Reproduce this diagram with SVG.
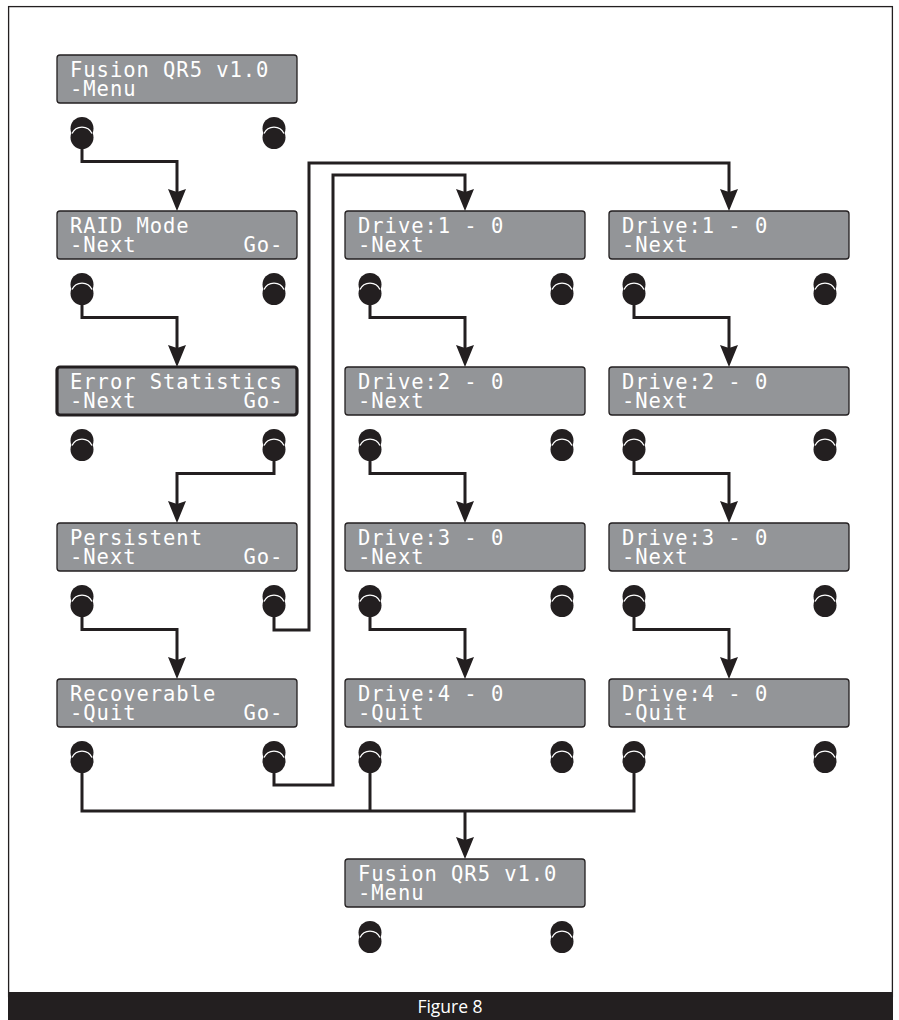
<svg xmlns="http://www.w3.org/2000/svg" xmlns:xlink="http://www.w3.org/1999/xlink" width="899" height="1020" viewBox="0 0 899 1020">
<style>
.lcd{fill:#939598;stroke:#231f20;stroke-width:1.3}
.lcd.sel{stroke-width:3.2}
.t{font-family:"DejaVu Sans Mono",monospace;font-size:20.5px;letter-spacing:0.95px;fill:#ffffff}
.conn{fill:none;stroke:#231f20;stroke-width:3;stroke-linejoin:miter}
.cap{font-family:"Open Sans","Noto Sans",sans-serif;font-size:17.5px;fill:#ffffff}
</style>
<defs>
<marker id="arr" markerUnits="userSpaceOnUse" viewBox="0 0 22 18" markerWidth="22" markerHeight="18" refX="10" refY="9" orient="auto">
<path d="M0,0 L22,9 L0,18 L3,9 Z" fill="#231f20"/>
</marker>
<g id="btn">
<circle cx="0" cy="-4.5" r="11.5" fill="#231f20"/>
<circle cx="0" cy="4.5" r="11.5" fill="#231f20"/>
<path d="M-10,0.5 A11 11 0 0 1 10,0.5" fill="none" stroke="#ffffff" stroke-width="1.3"/>
</g>
</defs>
<rect x="0" y="0" width="899" height="1020" fill="#ffffff"/>
<rect x="8.6" y="6.6" width="883.8" height="990" fill="none" stroke="#231f20" stroke-width="1.3"/>
<rect x="8" y="992" width="885" height="28" fill="#231f20"/>
<text class="cap" x="450" y="1012.5" text-anchor="middle">Figure 8</text>

<g id="connectors">
<path class="conn" d="M82,140 V161.5 H177 V199" marker-end="url(#arr)"/>
<path class="conn" d="M82,296 V317.5 H177 V355" marker-end="url(#arr)"/>
<path class="conn" d="M274,452 V473.5 H177 V511" marker-end="url(#arr)"/>
<path class="conn" d="M82,608 V629.5 H177 V667" marker-end="url(#arr)"/>
<path class="conn" d="M274,608 V630 H309 V163 H729 V199" marker-end="url(#arr)"/>
<path class="conn" d="M274,764 V785 H333 V175 H465 V199" marker-end="url(#arr)"/>
<path class="conn" d="M370,296 V317.5 H465 V355" marker-end="url(#arr)"/>
<path class="conn" d="M370,452 V473.5 H465 V511" marker-end="url(#arr)"/>
<path class="conn" d="M370,608 V629.5 H465 V667" marker-end="url(#arr)"/>
<path class="conn" d="M634,296 V317.5 H729 V355" marker-end="url(#arr)"/>
<path class="conn" d="M634,452 V473.5 H729 V511" marker-end="url(#arr)"/>
<path class="conn" d="M634,608 V629.5 H729 V667" marker-end="url(#arr)"/>
<path class="conn" d="M82,764 V811 H634 V764"/>
<path class="conn" d="M370,764 V811"/>
<path class="conn" d="M465,811 V847" marker-end="url(#arr)"/>
</g>

<g id="node-menu-top">
<rect class="lcd" x="57" y="55" width="240" height="48" rx="3"/>
<text class="t" x="70" y="76.5">Fusion QR5 v1.0</text>
<text class="t" x="70" y="96">-Menu</text>
<use href="#btn" x="82" y="133"/><use href="#btn" x="274" y="133"/>
</g>
<g id="node-raid">
<rect class="lcd" x="57" y="211" width="240" height="48" rx="3"/>
<text class="t" x="70" y="232.5">RAID Mode</text>
<text class="t" x="70" y="252">-Next</text>
<text class="t" x="243.5" y="252">Go-</text>
<use href="#btn" x="82" y="289"/><use href="#btn" x="274" y="289"/>
</g>
<g id="node-error">
<rect class="lcd sel" x="57" y="367" width="240" height="48" rx="3"/>
<text class="t" x="70" y="388.5">Error Statistics</text>
<text class="t" x="70" y="408">-Next</text>
<text class="t" x="243.5" y="408">Go-</text>
<use href="#btn" x="82" y="445"/><use href="#btn" x="274" y="445"/>
</g>
<g id="node-persistent">
<rect class="lcd" x="57" y="523" width="240" height="48" rx="3"/>
<text class="t" x="70" y="544.5">Persistent</text>
<text class="t" x="70" y="564">-Next</text>
<text class="t" x="243.5" y="564">Go-</text>
<use href="#btn" x="82" y="601"/><use href="#btn" x="274" y="601"/>
</g>
<g id="node-recoverable">
<rect class="lcd" x="57" y="679" width="240" height="48" rx="3"/>
<text class="t" x="70" y="700.5">Recoverable</text>
<text class="t" x="70" y="720">-Quit</text>
<text class="t" x="243.5" y="720">Go-</text>
<use href="#btn" x="82" y="757"/><use href="#btn" x="274" y="757"/>
</g>

<g id="node-p-drive1">
<rect class="lcd" x="345" y="211" width="240" height="48" rx="3"/>
<text class="t" x="358" y="232.5">Drive:1 - 0</text>
<text class="t" x="358" y="252">-Next</text>
<use href="#btn" x="370" y="289"/><use href="#btn" x="562" y="289"/>
</g>
<g id="node-p-drive2">
<rect class="lcd" x="345" y="367" width="240" height="48" rx="3"/>
<text class="t" x="358" y="388.5">Drive:2 - 0</text>
<text class="t" x="358" y="408">-Next</text>
<use href="#btn" x="370" y="445"/><use href="#btn" x="562" y="445"/>
</g>
<g id="node-p-drive3">
<rect class="lcd" x="345" y="523" width="240" height="48" rx="3"/>
<text class="t" x="358" y="544.5">Drive:3 - 0</text>
<text class="t" x="358" y="564">-Next</text>
<use href="#btn" x="370" y="601"/><use href="#btn" x="562" y="601"/>
</g>
<g id="node-p-drive4">
<rect class="lcd" x="345" y="679" width="240" height="48" rx="3"/>
<text class="t" x="358" y="700.5">Drive:4 - 0</text>
<text class="t" x="358" y="720">-Quit</text>
<use href="#btn" x="370" y="757"/><use href="#btn" x="562" y="757"/>
</g>

<g id="node-r-drive1">
<rect class="lcd" x="609" y="211" width="240" height="48" rx="3"/>
<text class="t" x="622" y="232.5">Drive:1 - 0</text>
<text class="t" x="622" y="252">-Next</text>
<use href="#btn" x="634" y="289"/><use href="#btn" x="825" y="289"/>
</g>
<g id="node-r-drive2">
<rect class="lcd" x="609" y="367" width="240" height="48" rx="3"/>
<text class="t" x="622" y="388.5">Drive:2 - 0</text>
<text class="t" x="622" y="408">-Next</text>
<use href="#btn" x="634" y="445"/><use href="#btn" x="825" y="445"/>
</g>
<g id="node-r-drive3">
<rect class="lcd" x="609" y="523" width="240" height="48" rx="3"/>
<text class="t" x="622" y="544.5">Drive:3 - 0</text>
<text class="t" x="622" y="564">-Next</text>
<use href="#btn" x="634" y="601"/><use href="#btn" x="825" y="601"/>
</g>
<g id="node-r-drive4">
<rect class="lcd" x="609" y="679" width="240" height="48" rx="3"/>
<text class="t" x="622" y="700.5">Drive:4 - 0</text>
<text class="t" x="622" y="720">-Quit</text>
<use href="#btn" x="634" y="757"/><use href="#btn" x="825" y="757"/>
</g>

<g id="node-menu-bottom">
<rect class="lcd" x="345" y="859" width="240" height="48" rx="3"/>
<text class="t" x="358" y="880.5">Fusion QR5 v1.0</text>
<text class="t" x="358" y="900">-Menu</text>
<use href="#btn" x="370" y="937"/><use href="#btn" x="562" y="937"/>
</g>
</svg>
